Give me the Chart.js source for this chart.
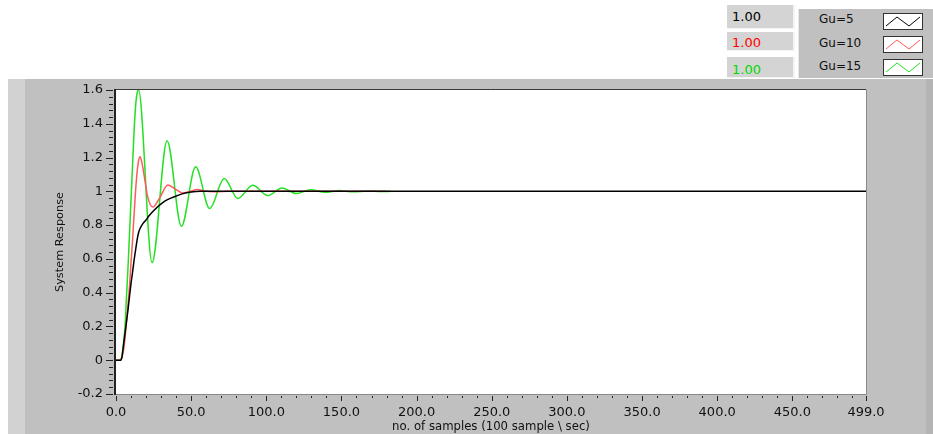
<!DOCTYPE html>
<html>
<head>
<meta charset="utf-8">
<script src="https://cdn.jsdelivr.net/npm/chart.js@4.4.1/dist/chart.umd.min.js"></script>
<style>
  html, body { margin: 0; padding: 0; background: #fff; }
  #wrap { position: relative; width: 933px; height: 434px; overflow: hidden; }
  #chart { position: absolute; left: 0; top: 0; }
  .vbox {
    position: absolute; left: 727px; width: 68px;
    background: #d4d4d4;
    border-right: 2px solid #f4f4f4; border-bottom: 1px solid #f4f4f4;
    box-sizing: border-box;
    font: 13px "DejaVu Sans", sans-serif;
    padding-left: 5px;
  }
  #legendPanel {
    position: absolute; left: 798px; top: 9px; width: 135px; height: 69px;
    background: #c0c0c0; border-left: 1px solid #e8e8e8; box-sizing: border-box;
  }
  .lrow { position: absolute; left: 20px; font: 12px "DejaVu Sans", sans-serif; color: #111; }
  .sw { position: absolute; left: 84px; width: 40px; height: 17px; background: #fff;
        border: 1px solid #333; box-sizing: border-box; }
</style>
</head>
<body>
<div id="wrap">
  <canvas id="chart" width="933" height="434"></canvas>

  <div class="vbox" style="top:5px;height:24px;line-height:24px;color:#000;">1.00</div>
  <div class="vbox" style="top:32px;height:19px;line-height:22px;color:#ff0000;">1.00</div>
  <div class="vbox" style="top:57px;height:21px;line-height:25px;color:#00d800;">1.00</div>

  <div id="legendPanel">
    <div class="lrow" style="top:3px;">Gu=5</div>
    <div class="lrow" style="top:27px;">Gu=10</div>
    <div class="lrow" style="top:50px;">Gu=15</div>
    <div class="sw" style="top:4px;"><svg width="38" height="15"><polyline points="2,12 13,3 25,12 36,3" fill="none" stroke="#000" stroke-width="1"/></svg></div>
    <div class="sw" style="top:27px;"><svg width="38" height="15"><polyline points="2,12 13,3 25,12 36,3" fill="none" stroke="#ff5a5a" stroke-width="1"/></svg></div>
    <div class="sw" style="top:50px;"><svg width="38" height="15"><polyline points="2,12 13,3 25,12 36,3" fill="none" stroke="#22e022" stroke-width="1"/></svg></div>
  </div>
</div>

<script>
// Step responses for three controller gains (sample index -> response)
const gu5Samples  = [0, 3, 4, 5, 6, 7, 8, 9, 10, 11, 12, 13, 14, 15, 16, 18, 20, 22, 25, 29, 33, 38, 44, 50, 56, 499];
const gu5Values   = [0, 0, 0.02, 0.09, 0.16, 0.23, 0.30, 0.38, 0.455, 0.52, 0.59, 0.65, 0.71, 0.755, 0.78, 0.81, 0.83, 0.855, 0.885, 0.918, 0.945, 0.965, 0.985, 0.996, 1.0, 1.0];

const gu10Samples = [0, 3, 4, 5, 6, 7, 8, 9, 10, 11, 12, 13, 14, 15, 16, 17, 19, 21, 24.5, 29, 34.5, 40, 44.5, 49, 54, 60, 66, 75, 180];
const gu10Values  = [0, 0, 0.02, 0.06, 0.13, 0.23, 0.33, 0.44, 0.58, 0.71, 0.86, 1.0, 1.11, 1.18, 1.205, 1.18, 1.08, 0.97, 0.907, 0.96, 1.038, 1.01, 0.99, 0.998, 1.011, 1.0, 0.998, 1.0, 1.0];

const gu15Samples = [0, 3, 4, 5, 6, 7, 8, 9, 10, 11, 12, 13, 14, 15, 24, 34, 43.5, 53, 62.3, 72, 81, 91, 101, 110.5, 120, 129.5, 139, 148.5, 158, 167.5, 177, 183];
const gu15Values  = [0, 0, 0.03, 0.1, 0.2, 0.38, 0.55, 0.75, 0.95, 1.15, 1.35, 1.5, 1.58, 1.6, 0.578, 1.3, 0.793, 1.145, 0.898, 1.076, 0.957, 1.036, 0.975, 1.02, 0.987, 1.01, 0.994, 1.005, 0.997, 1.002, 0.999, 1.0];

const seriesNames  = ['Gu=5', 'Gu=10', 'Gu=15'];
const seriesColors = ['#000000', '#ff5a5a', '#22e022'];

// Axis ticks
const xMajorTicks  = [0, 50, 100, 150, 200, 250, 300, 350, 400, 450, 499];
const xTickLabels  = ['0.0', '50.0', '100.0', '150.0', '200.0', '250.0', '300.0', '350.0', '400.0', '450.0', '499.0'];
const yMajorTicks  = [-0.2, 0, 0.2, 0.4, 0.6, 0.8, 1, 1.2, 1.4, 1.6];
const yTickLabels  = ['-0.2', '0', '0.2', '0.4', '0.6', '0.8', '1', '1.2', '1.4', '1.6'];

const toPoints = (xs, ys) => xs.map((x, i) => ({ x: x, y: ys[i] }));

// Grey instrument panel, white plot area, frame and tick marks
const panelPlugin = {
  id: 'panel',
  beforeDraw(chart) {
    const ctx = chart.ctx, a = chart.chartArea;
    ctx.save();
    ctx.fillStyle = '#c0c0c0';
    ctx.fillRect(8, 79, 925, 355);
    ctx.fillStyle = '#d2d2d2';
    ctx.fillRect(8, 79, 17, 355);
    ctx.fillStyle = '#b4b4b4';
    ctx.fillRect(926, 79, 7, 355);
    ctx.fillStyle = '#ffffff';
    ctx.fillRect(a.left, a.top, a.right - a.left, a.bottom - a.top);
    ctx.restore();
  },
  afterDraw(chart) {
    const ctx = chart.ctx, a = chart.chartArea;
    const xs = chart.scales.x, ys = chart.scales.y;
    ctx.save();
    // frame
    ctx.lineWidth = 1;
    ctx.strokeStyle = '#8a8a8a';
    ctx.beginPath();
    ctx.moveTo(a.left, a.bottom + 0.5); ctx.lineTo(a.right + 0.5, a.bottom + 0.5);
    ctx.lineTo(a.right + 0.5, a.top - 0.5);
    ctx.stroke();
    ctx.strokeStyle = '#3a3a3a';
    ctx.beginPath();
    ctx.moveTo(a.right, a.top - 0.5); ctx.lineTo(a.left - 0.5, a.top - 0.5);
    ctx.stroke();
    ctx.lineWidth = 2;
    ctx.strokeStyle = '#222';
    ctx.beginPath();
    ctx.moveTo(a.left - 1, a.top - 1); ctx.lineTo(a.left - 1, a.bottom + 1);
    ctx.stroke();

    // tick marks
    ctx.lineWidth = 1;
    ctx.strokeStyle = '#222';
    ctx.beginPath();
    for (let v = 0; v <= 499; v += 10) {
      const px = Math.round(xs.getPixelForValue(v)) + 0.5;
      const major = xMajorTicks.includes(v);
      ctx.moveTo(px, a.bottom + 2); ctx.lineTo(px, a.bottom + (major ? 7 : 4));
    }
    const endPx = Math.round(xs.getPixelForValue(499)) + 0.5;
    ctx.moveTo(endPx, a.bottom + 2); ctx.lineTo(endPx, a.bottom + 7);
    for (let i = 0; i <= 45; i++) {
      const v = -0.2 + i * 0.04;
      const py = Math.round(ys.getPixelForValue(v)) + 0.5;
      const major = i % 5 === 0;
      ctx.moveTo(a.left - 3, py); ctx.lineTo(a.left - (major ? 10 : 7), py);
    }
    ctx.stroke();
    ctx.restore();
  }
};

new Chart(document.getElementById('chart'), {
  type: 'line',
  data: {
    datasets: [
      { label: seriesNames[0], data: toPoints(gu5Samples, gu5Values), borderColor: seriesColors[0] },
      { label: seriesNames[1], data: toPoints(gu10Samples, gu10Values), borderColor: seriesColors[1] },
      { label: seriesNames[2], data: toPoints(gu15Samples, gu15Values), borderColor: seriesColors[2] }
    ]
  },
  options: {
    responsive: false,
    animation: false,
    layout: { padding: { top: 90, right: 67, left: 0, bottom: 0 } },
    elements: {
      point: { radius: 0 },
      line: { borderWidth: 1.5, cubicInterpolationMode: 'monotone', fill: false }
    },
    plugins: { legend: { display: false }, tooltip: { enabled: false } },
    scales: {
      x: {
        type: 'linear', min: 0, max: 499,
        grid: { display: false, drawTicks: false },
        border: { display: false },
        afterBuildTicks: (s) => { s.ticks = xMajorTicks.map(v => ({ value: v })); },
        afterFit: (s) => { s.height = 40; },
        ticks: {
          autoSkip: false, maxRotation: 0, padding: 11,
          color: '#111', font: { family: 'DejaVu Sans', size: 13 },
          callback: (v, i) => xTickLabels[i]
        },
        title: {
          display: true, text: 'no. of samples (100 sample \\ sec)',
          color: '#111', font: { family: 'DejaVu Sans', size: 11.7 },
          padding: { top: 0, bottom: 0 }
        }
      },
      y: {
        type: 'linear', min: -0.2, max: 1.6,
        grid: { display: false, drawTicks: false },
        border: { display: false },
        afterBuildTicks: (s) => { s.ticks = yMajorTicks.map(v => ({ value: v })); },
        afterFit: (s) => { s.width = 116; },
        ticks: {
          autoSkip: false, padding: 13,
          color: '#111', font: { family: 'DejaVu Sans', size: 13 },
          callback: (v, i) => yTickLabels[i]
        },
        title: {
          display: true, text: 'System Response',
          color: '#111', font: { family: 'DejaVu Sans', size: 11.3 },
          padding: { top: 53, bottom: 0 }
        }
      }
    }
  },
  plugins: [panelPlugin]
});
</script>
</body>
</html>
